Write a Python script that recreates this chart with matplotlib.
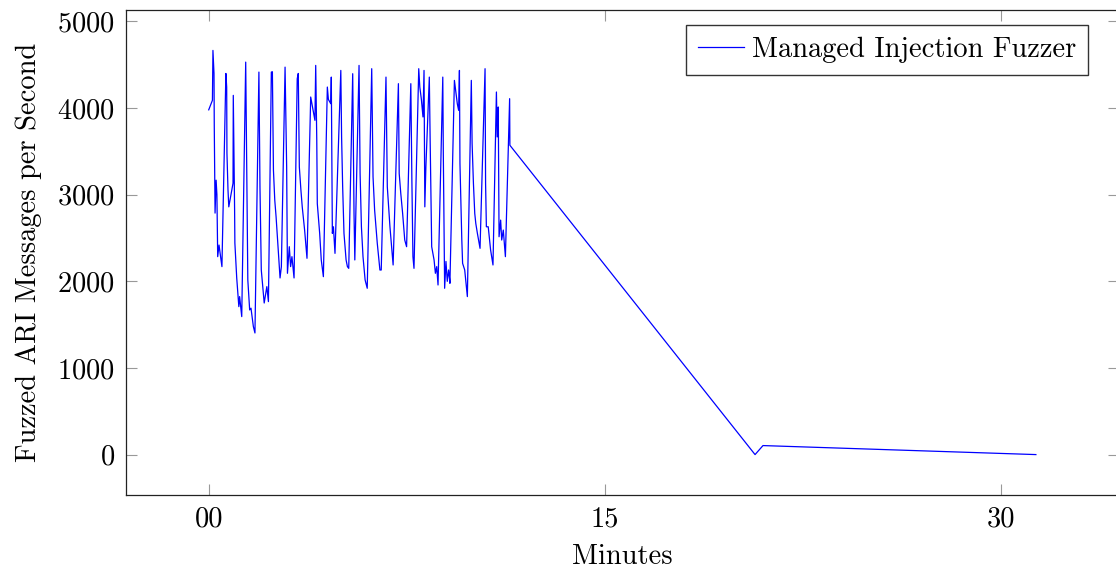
import matplotlib
matplotlib.use("Agg")
import matplotlib.pyplot as plt
import numpy as np

plt.rcParams['font.family'] = ['cmr10', 'DejaVu Serif']
plt.rcParams['mathtext.fontset'] = 'cm'
plt.rcParams['axes.formatter.use_mathtext'] = True

# minutes since start
minutes = [
    0.00, 0.14, 0.16, 0.20, 0.21, 0.24, 0.28, 0.31, 0.34, 0.39,
    0.50, 0.65, 0.68, 0.69, 0.73, 0.76, 0.92, 0.93, 0.98, 0.99,
    1.06, 1.14, 1.17, 1.25, 1.40, 1.48, 1.55, 1.60, 1.69, 1.75,
    1.90, 1.94, 1.99, 2.10, 2.20, 2.26, 2.37, 2.41, 2.45, 2.50,
    2.55, 2.65, 2.70, 2.75, 2.89, 2.93, 2.95, 2.98, 3.05, 3.10,
    3.15, 3.23, 3.35, 3.39, 3.43, 3.49, 3.54, 3.63, 3.72, 3.86,
    3.95, 4.02, 4.05, 4.09, 4.11, 4.20, 4.26, 4.34, 4.49, 4.53,
    4.62, 4.64, 4.68, 4.72, 4.78, 5.00, 5.03, 5.07, 5.12, 5.20,
    5.25, 5.30, 5.45, 5.50, 5.53, 5.69, 5.73, 5.78, 5.84, 5.92,
    6.00, 6.17, 6.22, 6.28, 6.38, 6.48, 6.53, 6.71, 6.74, 6.76,
    6.81, 6.86, 6.98, 7.18, 7.21, 7.27, 7.34, 7.42, 7.49, 7.65,
    7.69, 7.73, 7.77, 7.95, 7.99, 8.05, 8.11, 8.15, 8.18, 8.22,
    8.35, 8.38, 8.44, 8.53, 8.58, 8.63, 8.68, 8.86, 8.88, 8.93,
    8.98, 9.03, 9.08, 9.12, 9.13, 9.30, 9.41, 9.46, 9.49, 9.51,
    9.58, 9.61, 9.69, 9.79, 9.94, 9.97, 10.02, 10.07, 10.11, 10.17,
    10.27, 10.46, 10.48, 10.51, 10.58, 10.67, 10.76, 10.89, 10.92, 10.96,
    10.99, 11.05, 11.09, 11.15, 11.23, 11.39, 11.40,
    20.68, 20.98, 31.31,
]

# fuzzed messages per second
rate = [
    3980, 4090, 4666, 4400, 3800, 2788, 3168, 3000, 2285, 2419,
    2170, 4400, 4243, 3480, 3053, 2860, 3133, 4147, 2822, 2442,
    2039, 1708, 1824, 1593, 4531, 2016, 1670, 1690, 1478, 1404,
    4416, 3091, 2131, 1750, 1939, 1766, 4416, 4420, 3283, 2938,
    2745, 2285, 2039, 2170, 4473, 3744, 3321, 2093, 2400, 2170,
    2285, 2039, 4339, 4400, 3321, 3053, 2860, 2592, 2266, 4128,
    3974, 3859, 4493, 3629, 2898, 2554, 2247, 2054, 4243, 4100,
    4051, 4358, 2554, 2630, 2323, 4435, 3667, 3091, 2554, 2247,
    2170, 2150, 4397, 2784, 2247, 4493, 3245, 2630, 2285, 2016,
    1920, 4455, 3206, 2822, 2440, 2131, 2131, 4358, 3629, 3091,
    2860, 2630, 2189, 4282, 3245, 3015, 2784, 2477, 2400, 4282,
    3168, 2285, 2150, 4455, 4243, 4100, 3898, 4435, 2860, 3320,
    4358, 3668, 2400, 2247, 2093, 2170, 1958, 4358, 3475, 1920,
    2230, 2000, 2131, 2020, 1977, 4320, 4050, 3974, 4435, 3360,
    2477, 2208, 2131, 1824, 4320, 3590, 3130, 2784, 2667, 2554,
    2381, 4455, 3130, 2630, 2630, 2362, 2189, 4186, 3667, 4013,
    2515, 2707, 2477, 2592, 2285, 4109, 3571,
    0, 104, 0,
]

xticks = [0, 15, 30]
xticklabels = ['00', '15', '30']
yticks = [0, 1000, 2000, 3000, 4000, 5000]

fs = 20.5

fig = plt.figure(figsize=(11.16, 5.70), dpi=100)
ax = fig.add_axes([126 / 1116, 1 - 495 / 570, 992.6 / 1116, 485 / 570])

ax.plot(minutes, rate, color=(0, 0, 1), lw=0.9, label='Managed Injection Fuzzer')

# pgfplots style: 10% enlarged limits
xr = max(minutes) - min(minutes)
yr = max(rate) - min(rate)
ax.set_xlim(min(minutes) - 0.1 * xr, max(minutes) + 0.1 * xr)
ax.set_ylim(min(rate) - 0.1 * yr, max(rate) + 0.1 * yr)

ax.set_xticks(xticks)
ax.set_xticklabels(xticklabels)
ax.set_yticks(yticks)
ax.tick_params(direction='in', length=8, width=0.8, color='#999999',
               top=True, right=True, labelsize=fs, pad=8)
for s in ax.spines.values():
    s.set_linewidth(0.9)
    s.set_color('#222222')

ax.set_xlabel('Minutes', fontsize=fs, labelpad=8)
ax.set_ylabel('Fuzzed ARI Messages per Second', fontsize=fs, labelpad=11)

ax.legend(loc='upper right', bbox_to_anchor=(1088 / 1116, 1 - 25 / 570),
          bbox_transform=fig.transFigure, borderaxespad=0, fontsize=fs,
          fancybox=False, framealpha=1, edgecolor='#333333',
          handlelength=1.6, handletextpad=0.28, borderpad=0.42)

fig.savefig('out.png', dpi=100)
